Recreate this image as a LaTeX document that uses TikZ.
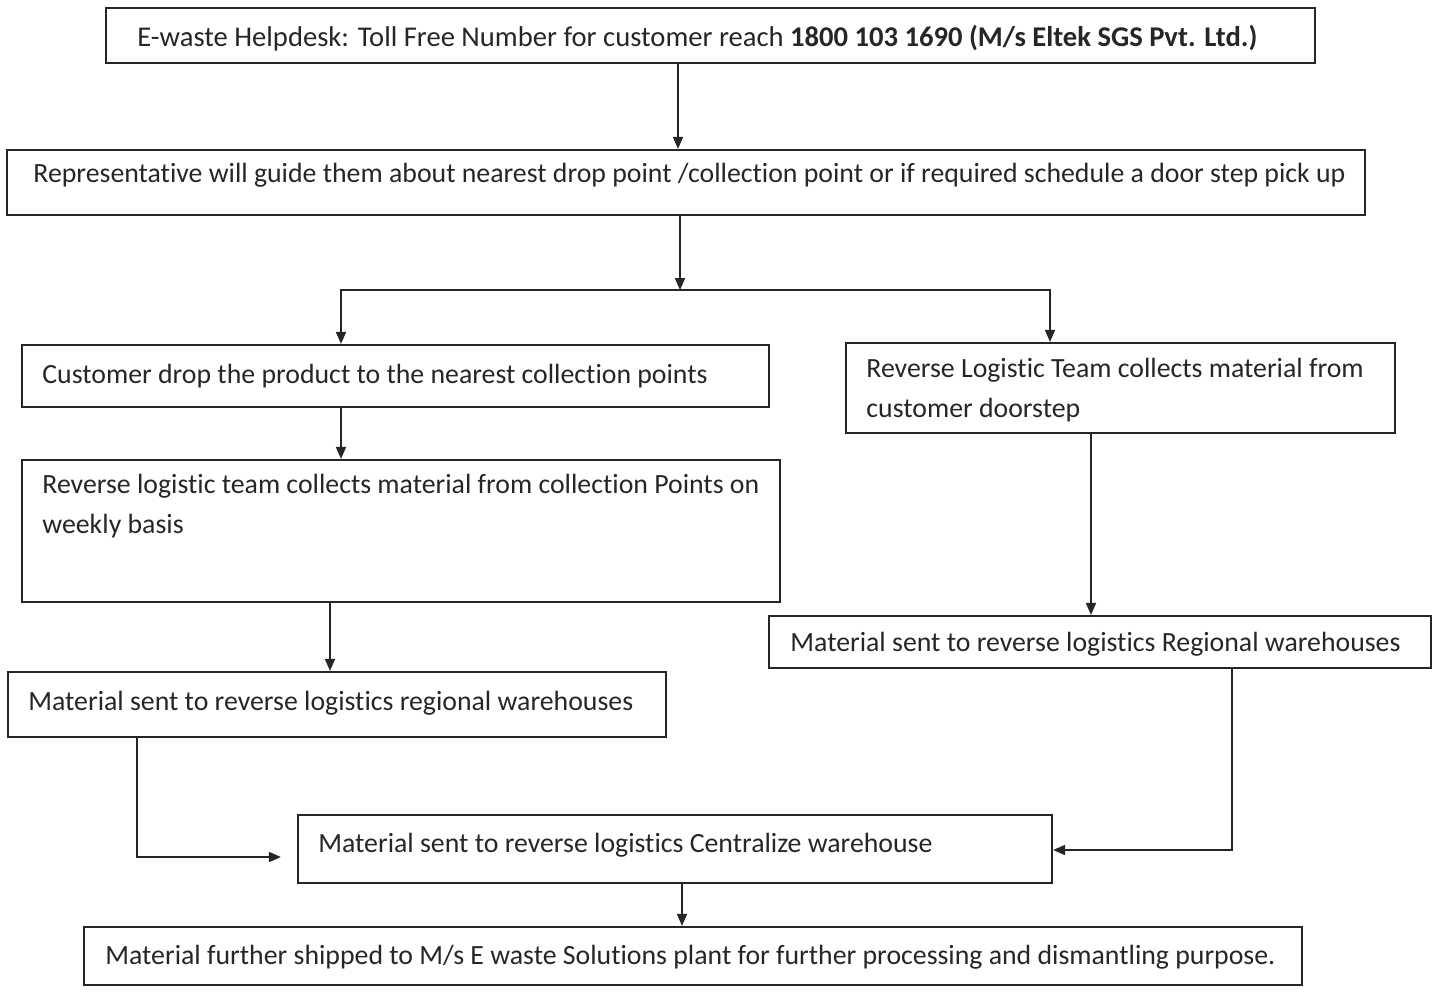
\documentclass[tikz,border=0pt]{standalone}
\usepackage{fontspec}
\setmainfont{Carlito}[Ligatures=NoCommon]
\usetikzlibrary{arrows.meta,fit}
\begin{document}
\begin{tikzpicture}[x=0.5pt,y=-0.5pt,
  box/.style={draw=black!85, line width=1.1pt, inner sep=0pt},
  lbl/.style={anchor=west, inner sep=0pt, text=black!85, font=\fontsize{13.9}{17}\selectfont},
  arr/.style={draw=black!85, line width=0.9pt, -{Triangle[length=6pt,width=5pt]}},
  ln/.style={draw=black!85, line width=0.9pt}]
\useasboundingbox (0,0) rectangle (1438,993);
% boxes
\node[box, fit={(106,8) (1315,63)}] (b1) {};
\node[box, fit={(7,150) (1365,215)}] (b2) {};
\node[box, fit={(22,345) (769,407)}] (b3) {};
\node[box, fit={(846,343) (1395,433)}] (b4) {};
\node[box, fit={(22,460) (780,602)}] (b5) {};
\node[box, fit={(8,672) (666,737)}] (b6) {};
\node[box, fit={(769,616) (1431,668)}] (b7) {};
\node[box, fit={(298,815) (1052,883)}] (b8) {};
\node[box, fit={(84,927) (1302,985)}] (b9) {};
% texts
\node[lbl, font=\fontsize{14.3}{17}\selectfont] (t1) at (137,38) {E-waste Helpdesk: Toll Free Number for customer reach \textbf{1800 103 1690 (M/s Eltek SGS Pvt. Ltd.)}};
\node[lbl] (t2) at (33,175) {Representative will guide them about nearest drop point /collection point or if required schedule a door step pick up};
\node[lbl] (t3) at (42,376) {Customer drop the product to the nearest collection points};
\node[lbl] (t4a) at (866,370) {Reverse Logistic Team collects material from};
\node[lbl] (t4b) at (866,410) {customer doorstep};
\node[lbl] (t5a) at (42,486) {Reverse logistic team collects material from collection Points on};
\node[lbl] (t5b) at (42,526) {weekly basis};
\node[lbl] (t6) at (28,703) {Material sent to reverse logistics regional warehouses};
\node[lbl] (t7) at (790,644) {Material sent to reverse logistics Regional warehouses};
\node[lbl] (t8) at (318,845) {Material sent to reverse logistics Centralize warehouse};
\node[lbl] (t9) at (105,957) {Material further shipped to M/s E waste Solutions plant for further processing and dismantling purpose.};
% connectors
\draw[arr] (678,0 |- b1.south) -- (678,0 |- b2.north);
\coordinate (j) at (680,290);
\draw[arr] (680,0 |- b2.south) -- (j);
\draw[arr] (j) -- (341,290) -- (341,0 |- b3.north);
\draw[arr] (j) -- (1050,290) -- (1050,0 |- b4.north);
\draw[arr] (341,0 |- b3.south) -- (341,0 |- b5.north);
\draw[arr] (330,0 |- b5.south) -- (330,0 |- b6.north);
\draw[arr] (1091,0 |- b4.south) -- (1091,0 |- b7.north);
\draw[arr, shorten >=8pt] (137,0 |- b6.south) -- (137,857) -- (b8.west |- 0,857);
\draw[arr] (1232,0 |- b7.south) -- (1232,850) -- (b8.east |- 0,850);
\draw[arr] (682,0 |- b8.south) -- (682,0 |- b9.north);
\end{tikzpicture}
\end{document}
